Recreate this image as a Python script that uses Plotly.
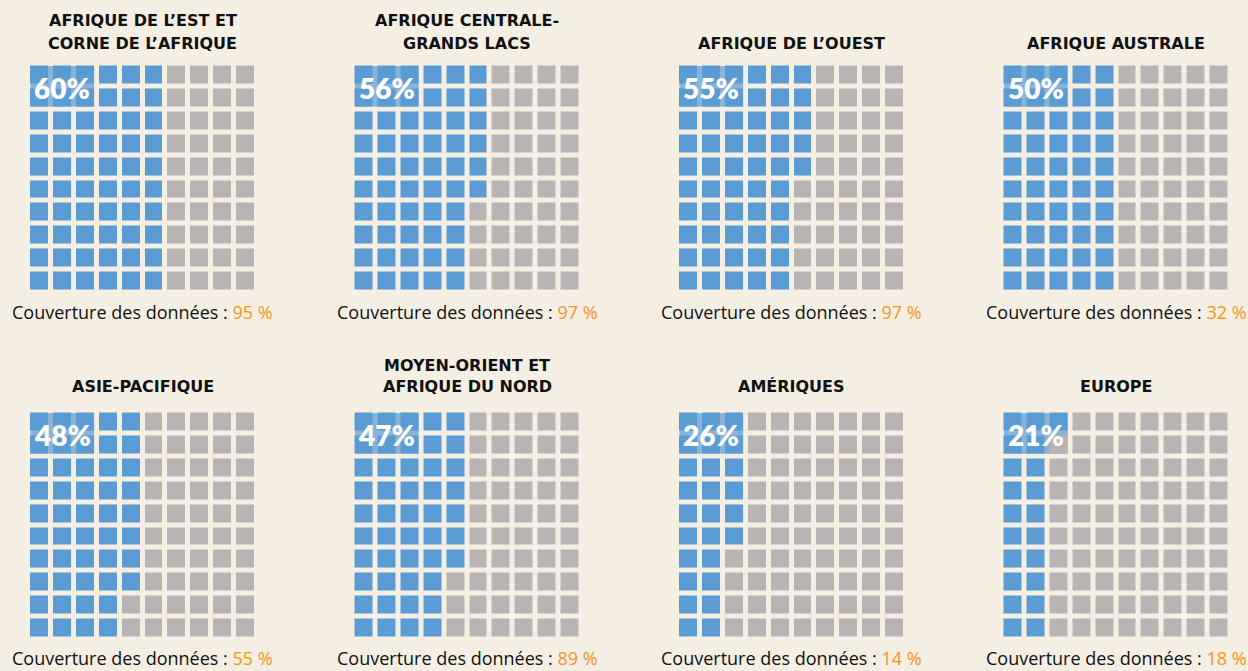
import plotly.graph_objects as go

# ---- data ----
regions = [
    ["AFRIQUE DE L’EST ET", "CORNE DE L’AFRIQUE"],
    ["AFRIQUE CENTRALE-", "GRANDS LACS"],
    ["AFRIQUE DE L’OUEST"],
    ["AFRIQUE AUSTRALE"],
    ["ASIE-PACIFIQUE"],
    ["MOYEN-ORIENT ET", "AFRIQUE DU NORD"],
    ["AMÉRIQUES"],
    ["EUROPE"],
]
share_pct = [60, 56, 55, 50, 48, 47, 26, 21]
coverage_pct = [95, 97, 97, 32, 55, 89, 14, 18]

# ---- style ----
W, H = 1248, 671
BG = "#F5EFE3"
BLUE = "#5B9BD3"
GRAY = "#B9B4B3"
ORANGE = "#F7941D"
PITCH = 22.9
GAP = 5
col_x = [30.5, 355, 679.5, 1004]
row_y = [66, 413]
title_y = [[21, 43.5], [365.5, 386]]
sub_y = [312, 658]

fig = go.Figure()
annotations = []
shapes = []
layout = {}

def px2x(px):
    return px / W

def px2y(py):
    return 1 - py / H

for i, pct in enumerate(share_pct):
    r, c = divmod(i, 4)
    n = i + 1
    xa = "x" if n == 1 else f"x{n}"
    ya = "y" if n == 1 else f"y{n}"
    x0 = col_x[c] - GAP / 2
    y0 = row_y[r] - GAP / 2
    ext = 10 * PITCH
    layout["xaxis" if n == 1 else f"xaxis{n}"] = dict(
        domain=[px2x(x0), px2x(x0 + ext)], range=[-0.5, 9.5],
        visible=False, fixedrange=True, anchor=ya)
    layout["yaxis" if n == 1 else f"yaxis{n}"] = dict(
        domain=[px2y(y0 + ext), px2y(y0)], range=[9.5, -0.5],
        visible=False, fixedrange=True, anchor=xa)

    z = [[1 if cc * 10 + rr < pct else 0 for cc in range(10)] for rr in range(10)]
    fig.add_trace(go.Heatmap(
        z=z, x=list(range(10)), y=list(range(10)), xaxis=xa, yaxis=ya,
        zmin=0, zmax=1, showscale=False, xgap=GAP, ygap=GAP,
        colorscale=[[0, GRAY], [0.5, GRAY], [0.5, BLUE], [1, BLUE]],
        hoverinfo="skip"))

    g = (GAP / 2) / PITCH
    shapes.append(dict(type="rect", xref=xa, yref=ya, layer="below",
                       x0=-0.5 + g, x1=2.5 - g, y0=-0.5 + g, y1=1.5 - g,
                       fillcolor=BLUE, opacity=0.7, line=dict(width=0)))
    annotations.append(dict(xref=xa, yref=ya, x=1, y=0.55, text=f"{pct}%",
                            showarrow=False, xanchor="center", yanchor="middle",
                            font=dict(family="Lato", size=28, color="white", weight=800)))

    lines = regions[i]
    ys = title_y[r][-len(lines):]
    for line, ty in zip(lines, ys):
        annotations.append(dict(xref=xa, yref="paper", x=4.5, y=px2y(ty), text=line,
                                showarrow=False, xanchor="center", yanchor="middle",
                                font=dict(family="DejaVu Sans", size=16, color="#111111",
                                          weight="bold")))
    annotations.append(dict(
        xref=xa, yref="paper", x=4.5, y=px2y(sub_y[r]),
        text=f"Couverture des données : <span style='color:{ORANGE}'>{coverage_pct[i]} %</span>",
        showarrow=False, xanchor="center", yanchor="middle",
        font=dict(family="Open Sans", size=18, color="#111111")))

fig.update_layout(
    width=W, height=H, margin=dict(l=0, r=0, t=0, b=0),
    paper_bgcolor=BG, plot_bgcolor="rgba(0,0,0,0)",
    showlegend=False, annotations=annotations, shapes=shapes, **layout)

fig.write_html(
    "out.html", config={"displayModeBar": False},
    post_script="document.body.style.margin='0';document.body.style.overflow='hidden';"
                "document.body.style.background='%s';" % BG)
